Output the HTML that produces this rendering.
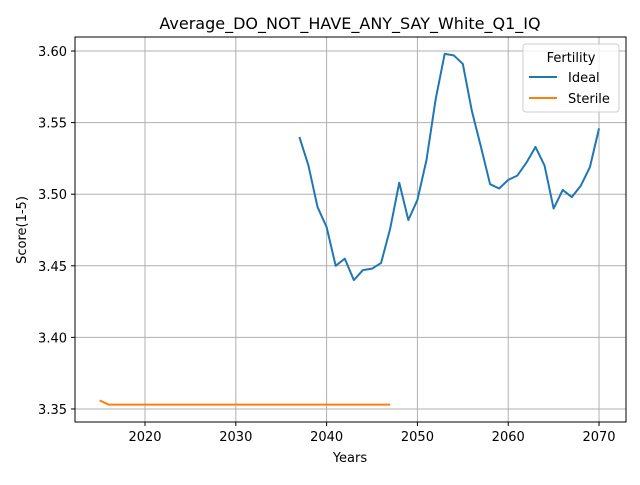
<!DOCTYPE html>
<html><head><meta charset="utf-8"><style>
body{margin:0;background:#fff;font-family:"Liberation Sans","DejaVu Sans",sans-serif;}
svg text{font-family:"DejaVu Sans","Liberation Sans",sans-serif;}
</style></head><body>
<svg id="chart" width="640" height="480" xmlns="http://www.w3.org/2000/svg">
<rect width="640" height="480" fill="#fff"/>
<g id="grid"></g><g id="series"></g><g id="axes"></g>
<text x="350" y="29" text-anchor="middle" font-size="16">Average_DO_NOT_HAVE_ANY_SAY_White_Q1_IQ</text>
<text x="350" y="462" text-anchor="middle" font-size="13">Years</text>
<text x="26" y="230" text-anchor="middle" font-size="13" transform="rotate(-90 26 230)">Score(1-5)</text>
<g>
<rect x="523" y="44" width="96" height="68" rx="3" fill="#fff" fill-opacity="0.8" stroke="#ccc"/>
<text x="571" y="62" text-anchor="middle" font-size="13">Fertility</text>
<g><line x1="529" y1="77" x2="557" y2="77" stroke="#1f77b4" stroke-width="2"/><text x="568" y="82" font-size="13">Ideal</text></g>
<g><line x1="529" y1="98" x2="557" y2="98" stroke="#ff7f0e" stroke-width="2"/><text x="568" y="103" font-size="13">Sterile</text></g>
</g>
</svg>
<script>
const idealYears=[2037,2038,2039,2040,2041,2042,2043,2044,2045,2046,2047,2048,2049,2050,2051,2052,2053,2054,2055,2056,2057,2058,2059,2060,2061,2062,2063,2064,2065,2066,2067,2068,2069,2070];
const idealValues=[3.540,3.520,3.491,3.477,3.450,3.455,3.440,3.447,3.448,3.452,3.476,3.508,3.482,3.496,3.524,3.566,3.598,3.597,3.591,3.558,3.533,3.507,3.504,3.510,3.513,3.522,3.533,3.520,3.490,3.503,3.498,3.506,3.519,3.546];
const sterileYears=[2015,2016,2017,2018,2019,2020,2021,2022,2023,2024,2025,2026,2027,2028,2029,2030,2031,2032,2033,2034,2035,2036,2037,2038,2039,2040,2041,2042,2043,2044,2045,2046,2047];
const sterileValues=[3.356,3.353,3.353,3.353,3.353,3.353,3.353,3.353,3.353,3.353,3.353,3.353,3.353,3.353,3.353,3.353,3.353,3.353,3.353,3.353,3.353,3.353,3.353,3.353,3.353,3.353,3.353,3.353,3.353,3.353,3.353,3.353,3.353];
const xTicks=[2020,2030,2040,2050,2060,2070];
const yTicks=[3.35,3.40,3.45,3.50,3.55,3.60];
const L=75,R=626,T=37,B=422,xMin=2012.29,xMax=2072.97,yMin=3.3409,yMax=3.6098;
const NS="http://www.w3.org/2000/svg";
const sx=v=>L+(v-xMin)/(xMax-xMin)*(R-L);
const sy=v=>B-(v-yMin)/(yMax-yMin)*(B-T);
function mk(tag,at,parent){const e=document.createElementNS(NS,tag);for(const k in at)e.setAttribute(k,at[k]);parent.appendChild(e);return e;}
const grid=document.getElementById('grid'),axes=document.getElementById('axes'),series=document.getElementById('series');
xTicks.forEach(t=>{const x=sx(t);
 const g=mk('line',{x1:x,x2:x,y1:T,y2:B,stroke:'#b0b0b0','stroke-width':1},grid);
 
 mk('line',{x1:x,x2:x,y1:B,y2:B+4,stroke:'#000','stroke-width':1},axes);
 const tx=mk('text',{x:x,y:B+19,'text-anchor':'middle','font-size':13},axes);tx.textContent=t;
 });
yTicks.forEach(t=>{const y=sy(t);
 const g=mk('line',{x1:L,x2:R,y1:y,y2:y,stroke:'#b0b0b0','stroke-width':1},grid);
 
 mk('line',{x1:L-4,x2:L,y1:y,y2:y,stroke:'#000','stroke-width':1},axes);
 const tx=mk('text',{x:L-8,y:y+5,'text-anchor':'end','font-size':13},axes);tx.textContent=t.toFixed(2);
 });
const frame=mk('rect',{x:L,y:T,width:R-L,height:B-T,fill:'none',stroke:'#000','stroke-width':1},axes);

function line(xs,ys,color,name){const p=mk('polyline',{points:xs.map((x,i)=>sx(x)+','+sy(ys[i])).join(' '),fill:'none',stroke:color,'stroke-width':2,'stroke-linejoin':'round'},series);
 }
line(idealYears,idealValues,'#1f77b4','ideal-line');
line(sterileYears,sterileValues,'#ff7f0e','sterile-line');
</script>
</body></html>
